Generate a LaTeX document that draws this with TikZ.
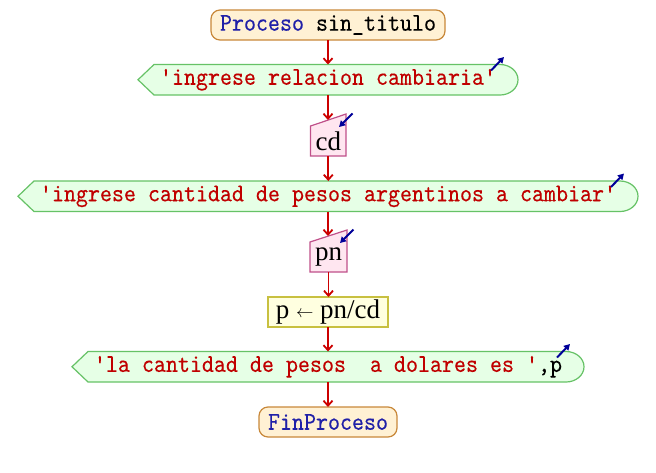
\documentclass[tikz,border=0pt]{standalone}
\usepackage{fontspec}
\setmonofont{lmmono10-regular.otf}[FakeBold=0.2]
\newfontfamily\serifb{Liberation Serif}
\usetikzlibrary{arrows.meta,backgrounds,calc}
\pgfdeclarelayer{canvasbg}
\pgfsetlayers{canvasbg,background,main}
\definecolor{termfill}{HTML}{FFF1D4}
\definecolor{termline}{HTML}{C8883A}
\definecolor{outfill}{HTML}{E6FFE6}
\definecolor{outline}{HTML}{66C266}
\definecolor{infill}{HTML}{FFE6F0}
\definecolor{inline}{HTML}{C0508A}
\definecolor{asgfill}{HTML}{FFFFE0}
\definecolor{asgline}{HTML}{C8C040}
\definecolor{strred}{HTML}{C00000}
\definecolor{kwblue}{HTML}{2020A8}
\definecolor{flowred}{HTML}{CC0000}
\definecolor{iconblue}{HTML}{000099}
\newcommand\tall[1]{\scalebox{1}[1.12]{#1}}
\newcommand\outshape[1]{\path[outsty] (#1.west) -- ([xshift=16pt]#1.north west) -- ([xshift=-18pt]#1.north east) arc[start angle=90,end angle=-90,x radius=18pt,y radius=15.25pt] -- ([xshift=16pt]#1.south west) -- cycle;}
\newcommand\inshape[1]{\path[insty] (#1.south west) -- (#1.north west) -- ([yshift=12pt]#1.north east) -- (#1.south east) -- cycle;}
\begin{document}
\begin{tikzpicture}[x=1pt,y=-1pt,
  mono/.style={font=\ttfamily\fontsize{22.86}{26}\selectfont},
  sertxt/.style={font=\serifb\fontsize{27}{30}\selectfont},
  term/.style={mono,draw=termline,fill=termfill,line width=1.2pt,rounded corners=9pt,inner sep=0pt,outer sep=0pt,minimum height=30pt},
  outbox/.style={mono,inner sep=0pt,outer sep=0pt,minimum height=30.5pt},
  inbox/.style={sertxt,inner sep=0pt,outer sep=0pt,minimum height=30pt},
  asgbox/.style={sertxt,draw=asgline,fill=asgfill,line width=1.2pt,inner sep=0pt,outer sep=0pt,minimum height=30pt},
  outsty/.style={draw=outline,fill=outfill,line width=1.2pt},
  insty/.style={draw=inline,fill=infill,line width=1.2pt},
  flow/.style={draw=flowred,line width=1.8pt,-{Straight Barb[length=5pt,width=9pt]}},
  icon/.style={draw=iconblue,line width=2pt,-{Triangle[length=6pt,width=6.5pt]}}]
\begin{pgfonlayer}{canvasbg}
\fill[white] (0,0) rectangle (656,472);
\end{pgfonlayer}
\useasboundingbox (0,0) rectangle (656,472);
% nodes
\node[term,minimum width=234pt] (start) at (328,25) {\tall{\textcolor{kwblue}{Proceso} sin\_titulo}};
\node[outbox,minimum width=380pt] (o1) at (328,79.75) {\tall{\textcolor{strred}{\textquotesingle ingrese relacion cambiaria\textquotesingle}}};
\node[inbox,minimum width=35.5pt] (cd) at (328.3,141) {cd};
\node[outbox,minimum width=620pt] (o2) at (328,196.25) {\tall{\textcolor{strred}{\textquotesingle ingrese cantidad de pesos argentinos a cambiar\textquotesingle}}};
\node[inbox,minimum width=37pt] (pn) at (328.5,257) {pn};
\node[asgbox,minimum width=120pt] (asg) at (328,312) {p \raisebox{1.5pt}{\scalebox{0.7}{$\leftarrow$}} pn/cd};
\node[outbox,minimum width=512pt] (o3) at (328,366.75) {\tall{\textcolor{strred}{\textquotesingle la cantidad de pesos\ \ a dolares es \textquotesingle},p}};
\node[term,minimum width=138pt] (fin) at (328,422) {\tall{\textcolor{kwblue}{FinProceso}}};
% shapes behind
\begin{scope}[on background layer]
\outshape{o1}
\outshape{o2}
\outshape{o3}
\inshape{cd}
\inshape{pn}
\end{scope}
\coordinate (cdtop) at ([yshift=6pt]cd.north);
\coordinate (pntop) at ([yshift=6pt]pn.north);
% connectors
\draw[flow] (start.south) -- (o1.north);
\draw[flow] (o1.south) -- (o1.south |- cdtop);
\draw[flow] (cd.south) -- (cd.south |- o2.north);
\draw[flow] (o2.south) -- (o2.south |- pntop);
\draw[flow] (pn.south) -- (pn.south |- asg.north);
\draw[flow] (asg.south) -- (o3.north);
\draw[flow] (o3.south) -- (fin.north);
% icons
\draw[icon] ([xshift=-27pt,yshift=-6pt]o1.north east) -- ([xshift=-14pt,yshift=7.5pt]o1.north east);
\draw[icon] ([xshift=-27pt,yshift=-6pt]o2.north east) -- ([xshift=-14pt,yshift=7.5pt]o2.north east);
\draw[icon] ([xshift=-27pt,yshift=-6pt]o3.north east) -- ([xshift=-14pt,yshift=7.5pt]o3.north east);
\draw[icon] ([xshift=6.5pt,yshift=12.5pt]cd.north east) -- ([xshift=-7pt,yshift=-1pt]cd.north east);
\draw[icon] ([xshift=6.5pt,yshift=12.5pt]pn.north east) -- ([xshift=-7pt,yshift=-1pt]pn.north east);
\end{tikzpicture}
\end{document}
